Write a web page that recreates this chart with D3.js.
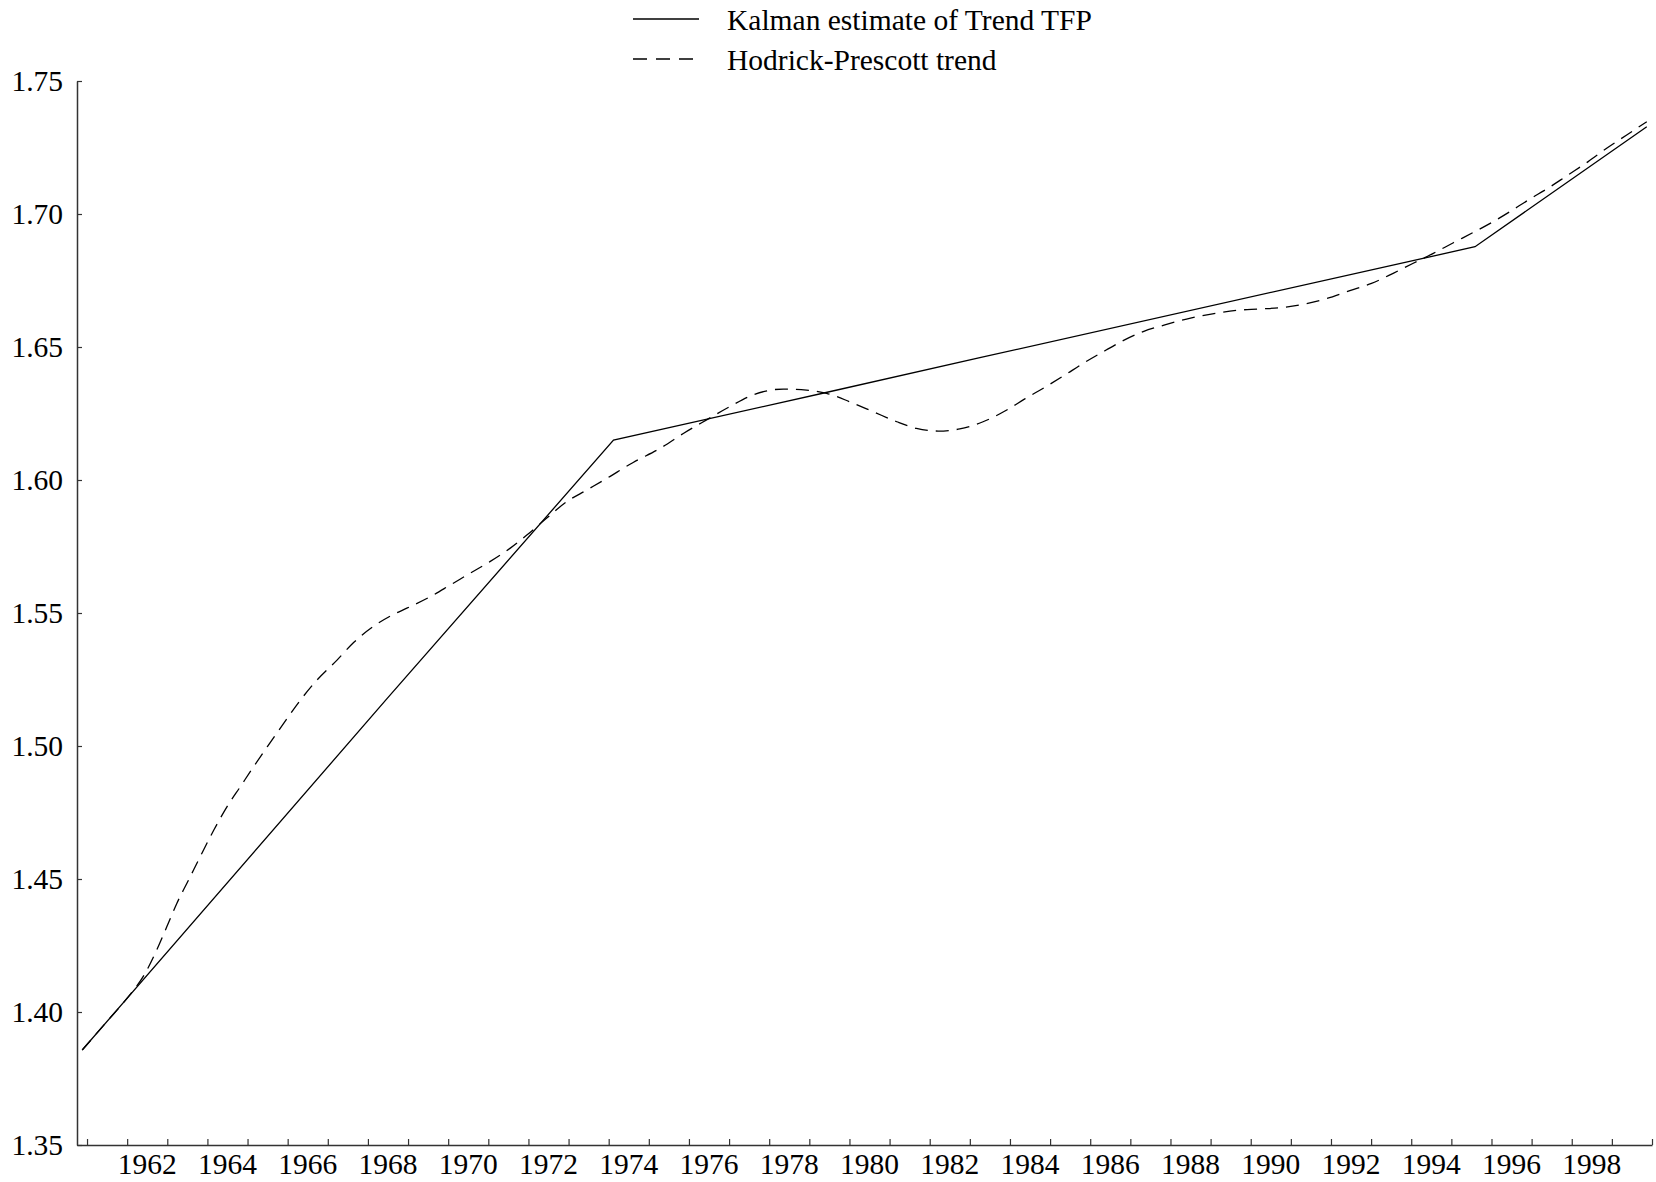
<!DOCTYPE html>
<html>
<head>
<meta charset="utf-8">
<script src="https://cdn.jsdelivr.net/npm/d3@7"></script>
<style>
  body { margin: 0; background: #fff; }
  svg text { font-family: "Liberation Serif", "Times New Roman", serif; fill: #000; }
</style>
</head>
<body>
<div id="chart"></div>
<script>
// Kalman estimate of trend TFP (piecewise linear)
const kalmanYears = [1960.88, 1968.47, 1974.12, 1979.39, 1983.25, 1995.59, 1999.87];
const kalmanValues = [1.3857, 1.5177, 1.615, 1.6328, 1.646, 1.6877, 1.7328];

// Hodrick-Prescott trend
const hpYears = [
  1960.88, 1961.5, 1962.0, 1962.45, 1962.7, 1962.99, 1963.24, 1963.53, 1963.82,
  1964.16, 1964.49, 1964.82, 1965.15, 1965.49, 1965.9, 1966.32, 1966.73, 1967.23,
  1967.65, 1968.14, 1968.64, 1968.97, 1969.55, 1970.05, 1970.54, 1971.04, 1971.54,
  1971.96, 1972.45, 1972.95, 1973.45, 1973.95, 1974.61, 1975.28, 1975.86, 1976.44,
  1977.02, 1977.6, 1978.35, 1978.93, 1979.43, 1980.01, 1980.59, 1981.18, 1981.67,
  1982.21, 1982.75, 1983.33, 1983.92, 1984.37, 1984.83, 1985.33, 1985.83, 1986.32,
  1986.82, 1987.32, 1987.86, 1988.4, 1988.98, 1989.65, 1990.23, 1990.81, 1991.35,
  1991.89, 1992.47, 1993.01, 1993.55, 1994.05, 1994.55, 1995.05, 1995.55, 1996.04,
  1996.46, 1996.92, 1997.41, 1997.91, 1998.41, 1998.87, 1999.37, 1999.87
];
const hpValues = [
  1.3857, 1.3965, 1.4052, 1.4146, 1.4221, 1.4321, 1.4409, 1.4496, 1.4584,
  1.4684, 1.4772, 1.4847, 1.4922, 1.4997, 1.5085, 1.5173, 1.5248, 1.5323,
  1.539, 1.545, 1.5495, 1.5518, 1.5561, 1.5605, 1.5649, 1.5693, 1.5743,
  1.5793, 1.5856, 1.5918, 1.5962, 1.6006, 1.6066, 1.6119, 1.6175, 1.6226,
  1.6276, 1.632, 1.6342, 1.6338, 1.6326, 1.6294, 1.6257, 1.6219, 1.6194,
  1.6184, 1.6192, 1.6219, 1.6263, 1.6305, 1.6345, 1.6391, 1.6439, 1.6482,
  1.6524, 1.6558, 1.6583, 1.6605, 1.6623, 1.6638, 1.6643, 1.6649, 1.6662,
  1.6682, 1.6712, 1.6739, 1.6777, 1.6815, 1.6852, 1.6892, 1.6931, 1.6971,
  1.7009, 1.7053, 1.7097, 1.7147, 1.7197, 1.7247, 1.7297, 1.7347
];

const yTicks = [1.35, 1.40, 1.45, 1.50, 1.55, 1.60, 1.65, 1.70, 1.75];
const yearTicks = d3.range(1961, 2001);
const yearLabels = d3.range(1962, 1999, 2);
const legendNames = ["Kalman estimate of Trend TFP", "Hodrick-Prescott trend"];

const W = 1656, H = 1182;
const margin = { top: 81, right: 4, bottom: 37, left: 77 };
const width = W - margin.left - margin.right,
  height = H - margin.top - margin.bottom;
const fontSize = "29.5px";

const svg = d3.select("#chart").append("svg")
  .attr("width", W).attr("height", H);

const g = svg.append("g")
  .attr("transform", `translate(${margin.left},${margin.top})`);

const x = d3.scaleLinear().domain([1960.75, 2000]).range([0, width]);
const y = d3.scaleLinear().domain([1.35, 1.75]).range([height, 0]);

// x axis: ticks every year pointing inward, labels centred inside the year
const xAxis = g.append("g")
  .attr("transform", `translate(0,${height})`)
  .call(d3.axisBottom(x).tickValues(yearTicks).tickSize(-6).tickSizeOuter(0).tickFormat(""));

g.selectAll(".yearLabel")
  .data(yearLabels)
  .join("text")
  .attr("class", "yearLabel")
  .attr("x", d => x(d + 0.5))
  .attr("y", height + 29)
  .attr("text-anchor", "middle")
  .style("font-size", fontSize)
  .text(d => d);

// y axis
const yAxis = g.append("g")
  .call(d3.axisLeft(y).tickValues(yTicks).tickSize(-5).tickSizeOuter(0)
    .tickPadding(14).tickFormat(d3.format(".2f")));
yAxis.selectAll("text")
  .style("font-size", fontSize)
  .style("font-family", '"Liberation Serif", "Times New Roman", serif');

[xAxis, yAxis].forEach(a => {
  a.select(".domain").attr("stroke", "#333").attr("stroke-width", 1.5);
  a.selectAll(".tick line").attr("stroke", "#333").attr("stroke-width", 1.2);
});

const line = d3.line()
  .x(d => x(d[0]))
  .y(d => y(d[1]));

const kalman = kalmanYears.map((t, i) => [t, kalmanValues[i]]);
const hp = hpYears.map((t, i) => [t, hpValues[i]]);

g.append("path")
  .datum(hp)
  .attr("fill", "none")
  .attr("stroke", "#000")
  .attr("stroke-width", 1.3)
  .attr("stroke-dasharray", "13,8")
  .attr("d", line.curve(d3.curveMonotoneX));

g.append("path")
  .datum(kalman)
  .attr("fill", "none")
  .attr("stroke", "#000")
  .attr("stroke-width", 1.3)
  .attr("d", d3.line().x(d => x(d[0])).y(d => y(d[1]))(kalman));

// legend
const legend = svg.append("g");
const legendY = [19, 59];
legendNames.forEach((name, i) => {
  legend.append("line")
    .attr("x1", 633).attr("x2", i == 0 ? 699 : 694)
    .attr("y1", legendY[i]).attr("y2", legendY[i])
    .attr("stroke", "#000")
    .attr("stroke-width", 1.3)
    .attr("stroke-dasharray", i == 0 ? null : "14,9");
  legend.append("text")
    .attr("x", 727)
    .attr("y", legendY[i] + 1)
    .attr("dy", "0.35em")
    .style("font-size", fontSize)
    .text(name);
});
</script>
</body>
</html>
